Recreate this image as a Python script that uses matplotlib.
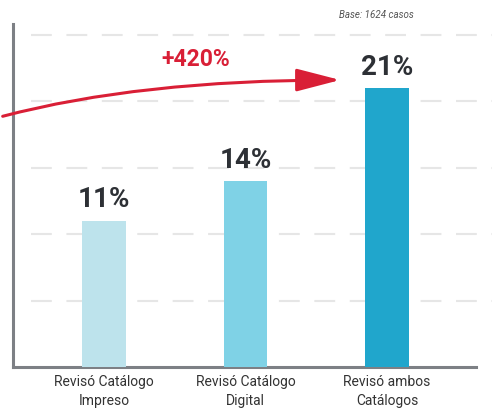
import matplotlib
matplotlib.use("Agg")
import matplotlib.pyplot as plt
from matplotlib.patches import FancyArrowPatch

plt.rcParams['font.family'] = ['Roboto', 'DejaVu Sans']

# === DATOS ===
categories = ["Revisó Catálogo\nImpreso", "Revisó Catálogo\nDigital", "Revisó ambos\nCatálogos"]
values = [11, 14, 21]
value_labels = ["11%", "14%", "21%"]
bar_colors = ["#bde3ec", "#7fd2e6", "#20a6cc"]
growth_label = "+420%"
base_note = "Base: 1624 casos"
grid_levels = [5, 10, 15, 20, 25]

W, H = 492, 413
fig = plt.figure(figsize=(W / 100, H / 100), dpi=100)
ax = fig.add_axes([13 / W, (H - 367) / H, (W - 13) / W, (367 - 24) / H])

x = list(range(len(categories)))
ax.bar(x, values, width=0.31, color=bar_colors, zorder=3)

ax.set_xlim(-0.643, 2.742)
ax.set_ylim(0, 25.8)

# grid dashes
ax.hlines(grid_levels, -0.516, 2.742, colors="#e6e6e6", linewidth=1.5,
          linestyles=(0, (10, 7)), zorder=1)

for xi, v, lab in zip(x, values, value_labels):
    ax.text(xi, v + 0.55, lab, ha="center", va="bottom", fontsize=20,
            fontweight="bold", color="#2d3035")

for s in ["top", "right"]:
    ax.spines[s].set_visible(False)
for s in ["left", "bottom"]:
    ax.spines[s].set_color("#7d8085")
    ax.spines[s].set_linewidth(2.2)
ax.spines["bottom"].set_bounds(-0.643, 2.63)

ax.set_yticks([])
ax.set_xticks(x)
ax.set_xticklabels(categories, fontsize=10, color="#333333", linespacing=1.4)
ax.tick_params(axis="x", length=0, pad=6)

# growth arrow (figure pixels)
arrow = FancyArrowPatch((0, H - 117), (343, H - 80), transform=None,
                        connectionstyle="angle3,angleA=15,angleB=0",
                        arrowstyle="-|>,head_length=27,head_width=7",
                        mutation_scale=1, color="#d91f36", linewidth=2.2,
                        zorder=5)
fig.patches.append(arrow)

fig.text(196 / W, 1 - 60 / H, growth_label, ha="center", va="center",
         fontsize=16.5, fontweight="bold", color="#d91f36")
fig.text(376 / W, 1 - 15 / H, base_note, ha="center", va="center",
         fontsize=7, style="italic", color="#555555")

fig.savefig("out.png", dpi=100)
